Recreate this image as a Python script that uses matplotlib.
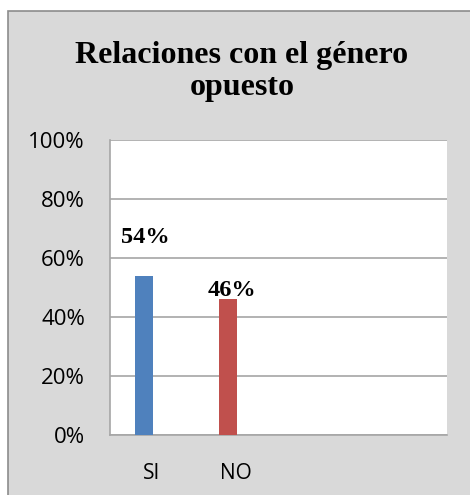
import matplotlib.pyplot as plt
from matplotlib.patches import Rectangle

# datos del gráfico
categorias = ['SI', 'NO']
valores = [0.54, 0.46]
etiquetas = ['54%', '46%']
colores = ['#4f81bd', '#c0504d']
yticks = [0, 0.2, 0.4, 0.6, 0.8, 1.0]
ytick_labels = ['0%', '20%', '40%', '60%', '80%', '100%']
titulo = 'Relaciones con el género\nopuesto'

fig = plt.figure(figsize=(4.7, 4.95), dpi=100)
fig.patch.set_facecolor('white')

# marco gris del gráfico (recortado a derecha y abajo)
marco = Rectangle((8 / 470, -0.05), 1.2, 1 - 11 / 495 + 0.05,
                  transform=fig.transFigure, facecolor='#d9d9d9',
                  edgecolor='#8c8c8c', linewidth=1.2, zorder=-5)
fig.add_artist(marco)

ax = fig.add_axes([110 / 470, 60 / 495, 337 / 470, 295 / 495])
ax.set_zorder(2)
ax.set_facecolor('white')

pos = list(range(len(categorias)))
desplaz = -0.095
ax.bar([p + desplaz for p in pos], valores, width=0.214, color=colores, zorder=3)

# etiquetas de datos
ax.text(pos[0] + desplaz + 0.02, 0.668, etiquetas[0], ha='center', va='center',
        fontsize=17.5, fontweight='bold', family='Liberation Serif', zorder=4)
ax.text(pos[1] - 0.05, 0.49, etiquetas[1], ha='center', va='center',
        fontsize=17.5, fontweight='bold', family='Liberation Serif', zorder=4)

ax.set_xlim(-0.5, 3.5)
ax.set_ylim(0, 1.0)
ax.set_yticks(yticks)
ax.set_yticklabels(ytick_labels, family='Open Sans', fontsize=16)
ax.set_xticks(pos)
ax.set_xticklabels(categorias, family='Open Sans', fontsize=15)
ax.tick_params(axis='both', length=0)
ax.tick_params(axis='y', pad=18)
ax.tick_params(axis='x', pad=20)
ax.grid(axis='y', color='#a6a6a6', linewidth=1.2, zorder=1)

for lado in ['top', 'right']:
    ax.spines[lado].set_visible(False)
ax.spines['left'].set_color('#a6a6a6')
ax.spines['bottom'].set_color('#a6a6a6')
ax.spines['left'].set_linewidth(1.2)
ax.spines['bottom'].set_linewidth(1.2)

fig.text(242 / 470, 1 - 71.5 / 495, titulo, ha='center', va='center',
         fontsize=23, fontweight='bold', family='Liberation Serif', linespacing=1.15)

fig.savefig('out.png', dpi=100)
